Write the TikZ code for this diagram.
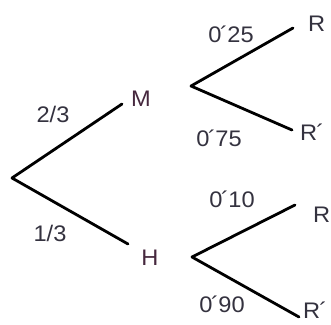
\documentclass[tikz,border=0pt]{standalone}
\usepackage{fontspec}
\setmainfont{Liberation Sans}[FakeStretch=1.05]
\definecolor{txt}{HTML}{34323F}
\definecolor{mh}{HTML}{46283E}
\newcommand{\ac}{\kern-1.5pt´\kern-0.5pt}
\begin{document}
\begin{tikzpicture}[x=1pt,y=-1pt,
  br/.style={line width=2.8pt, line cap=round, line join=round, black},
  lbl/.style={font=\fontsize{22.5}{26}\selectfont, text=txt, inner sep=0pt},
  ev/.style={lbl, text=mh}]
\useasboundingbox (0,0) rectangle (331,324);
\fill[white] (0,0) rectangle (331,324);
\coordinate (root) at (12,178);
\coordinate (m) at (122,104);
\coordinate (h) at (128,244);
\coordinate (mf) at (191,86);
\coordinate (mr) at (293,28);
\coordinate (mrp) at (292,130);
\coordinate (hf) at (192,257);
\coordinate (hr) at (295,205);
\coordinate (hrp) at (299,317);
\draw[br] (m) -- (root) -- (h);
\draw[br] (mr) -- (mf) -- (mrp);
\draw[br] (hr) -- (hf) -- (hrp);
% labels
\node[lbl, anchor=base] (p23) at (53,122.5) {2/3};
\node[lbl, anchor=base] (p13) at (50,241.5) {1/3};
\node[ev, anchor=base] (tM) at (141,106.5) {M};
\node[ev, anchor=base] (tH) at (150,265.5) {H};
\node[lbl, anchor=base] (p25) at (231,42.5) {0\ac 25};
\node[lbl, anchor=base] (p75) at (219,146.5) {0\ac 75};
\node[lbl, anchor=base] (p10) at (232,207.5) {0\ac 10};
\node[lbl, anchor=base] (p90) at (222,312.5) {0\ac 90};
\node[lbl, anchor=base west] (tR1) at (308,31.5) {R};
\node[lbl, anchor=base west] (tR2) at (300,140.5) {R\kern-1pt´};
\node[lbl, anchor=base west] (tR3) at (313,222.5) {R};
\node[lbl, anchor=base west] (tR4) at (303,318.5) {R\kern-1pt´};
\end{tikzpicture}
\end{document}
